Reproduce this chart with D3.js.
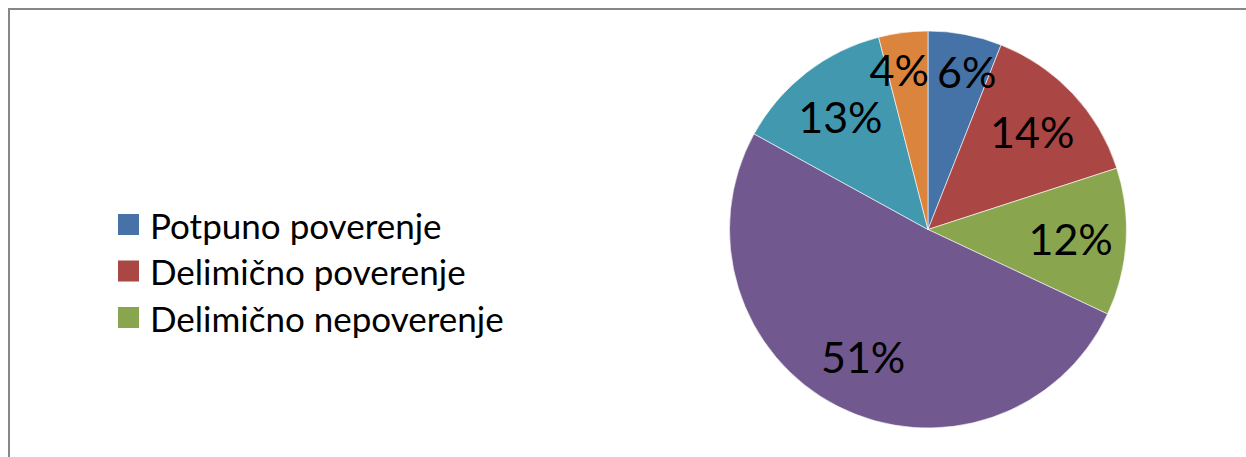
<!DOCTYPE html>
<html>
<head>
<meta charset="utf-8">
<script src="https://cdn.jsdelivr.net/npm/d3@7"></script>
<style>
html,body{margin:0;padding:0;background:#fff;}
svg{display:block;}
</style>
</head>
<body>
<svg id="chart" width="1246" height="457"></svg>
<script>
const categories = ["Potpuno poverenje", "Delimično poverenje", "Delimično nepoverenje", "Nepoverenje", "Ne znam", "Bez odgovora"];
const values = [6, 14, 12, 51, 13, 4];
const colors = ["#4572A7", "#AA4643", "#89A54E", "#71588F", "#4198AF", "#DB843D"];
const legendShown = 3;

const svg = d3.select("#chart");
const W = 1246, H = 457;
const FONT = "Lato, 'Open Sans', sans-serif";

// frame
svg.append("rect").attr("x", 9).attr("y", 9).attr("width", W + 20).attr("height", H + 20)
  .attr("fill", "#fff").attr("stroke", "#878787").attr("stroke-width", 2);

const cx = 928, cy = 229.5, R = 198.5;
const total = d3.sum(values);
const pie = d3.pie().sort(null).value(d => d)(values);
const arc = d3.arc().innerRadius(0).outerRadius(R);
// best-fit style: narrow slices push their label further out
const labelRadius = d => (d.data / total < 0.08 ? 0.81 : 0.72) * R;

const g = svg.append("g").attr("transform", `translate(${cx},${cy})`);
g.selectAll("path").data(pie).join("path")
  .attr("d", arc)
  .attr("fill", (d, i) => colors[i])
  .attr("stroke", "#fff").attr("stroke-width", 0.6);

const labels = g.selectAll("text").data(pie).join("text")
  .attr("text-anchor", "middle")
  .attr("dominant-baseline", "central")
  .attr("font-family", FONT)
  .attr("font-size", 43)
  .attr("fill", "#000")
  .text(d => Math.round(d.data / total * 100) + "%");

// initial positions and simple horizontal collision resolution
const pos = pie.map(d => {
  const r = labelRadius(d);
  return d3.arc().innerRadius(r).outerRadius(r).centroid(d);
});
const widths = [];
labels.each(function(d, i) { widths[i] = this.getComputedTextLength(); });
const hgt = 34, gap = 8;
for (let it = 0; it < 50; it++) {
  for (let i = 0; i < pos.length; i++) {
    for (let j = i + 1; j < pos.length; j++) {
      const dx = pos[j][0] - pos[i][0];
      const dy = Math.abs(pos[j][1] - pos[i][1]);
      const need = (widths[i] + widths[j]) / 2 + gap;
      if (dy < hgt && Math.abs(dx) < need) {
        const push = (need - Math.abs(dx)) / 2;
        const s = dx >= 0 ? 1 : -1;
        pos[i][0] -= s * push;
        pos[j][0] += s * push;
      }
    }
  }
}
labels.attr("transform", (d, i) => `translate(${pos[i]})`);

// legend
const leg = svg.append("g").attr("transform", "translate(118,214)");
const rowH = 46.5;
const items = categories.slice(0, legendShown);
items.forEach((c, i) => {
  const row = leg.append("g").attr("transform", `translate(0,${i * rowH})`);
  row.append("rect").attr("width", 21).attr("height", 21).attr("fill", colors[i]);
  row.append("text").attr("x", 32).attr("y", 10.5)
    .attr("dominant-baseline", "central")
    .attr("font-family", FONT)
    .attr("font-size", 35)
    .attr("fill", "#000")
    .text(c);
});
</script>
</body>
</html>
